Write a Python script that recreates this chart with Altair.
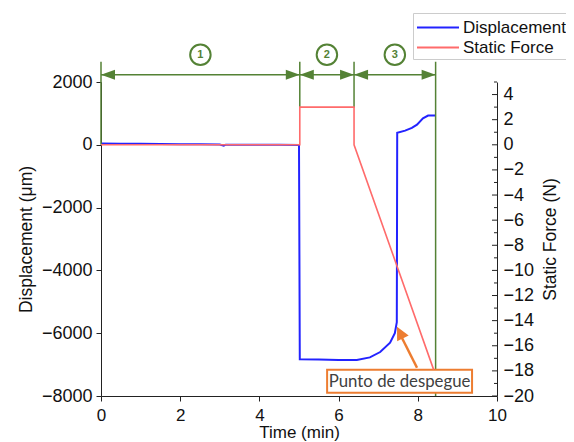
import altair as alt
import pandas as pd

# ---- data ----
disp_t = [0, 0.5, 1.0, 1.5, 2.0, 2.5, 3.0, 3.1, 3.15, 3.5, 4.0, 4.5, 5.0, 5.02,
          5.5, 6.0, 6.46, 6.79, 7.05, 7.3, 7.42, 7.47, 7.48, 7.68, 7.85, 7.98, 8.13, 8.26, 8.45]
disp_v = [40, 35, 30, 25, 20, 15, 10, -30, 5, 5, 0, 0, -5, -6830,
          -6840, -6850, -6850, -6770, -6600, -6300, -6000, -5650, 380, 450, 540, 640, 840, 930, 930]

force_t = [0, 5.02, 5.02, 6.39, 6.39, 8.40]
force_v = [0, 0, 3, 3, 0, -17.9]

phase_bounds = [0, 5.02, 6.39, 8.45]
phase_labels = ["1", "2", "3"]

BLUE = "#2323ff"
RED = "#ff6b6b"
GREEN = "#548235"
ORANGE = "#ED7D31"
FONT = "Liberation Sans"

disp_df = pd.DataFrame({"t": disp_t, "v": disp_v, "i": range(len(disp_t)),
                        "series": "Displacement"})
force_df = pd.DataFrame({"t": force_t, "v": force_v, "i": range(len(force_t)),
                         "series": "Static Force"})

color_scale = alt.Scale(domain=["Displacement", "Static Force"], range=[BLUE, RED])
legend = alt.Legend(orient="none", legendX=312, legendY=-69, title=None,
                    symbolType="M-1,0L3,0", symbolSize=441, symbolStrokeWidth=2,
                    labelFontSize=17, labelFont=FONT, labelColor="#111",
                    strokeColor="#cccccc", fillColor="white", padding=3,
                    rowPadding=0, labelOffset=24)

xscale = alt.Scale(domain=[0, 10], nice=False)
dscale = alt.Scale(domain=[-8000, 2000], nice=False)
fscale = alt.Scale(domain=[-20, 5], nice=False)

x_axis = alt.Axis(title="Time (min)", values=list(range(0, 11)), format="d",
                  labelExpr="datum.value % 2 === 0 ? datum.label : ''",
                  tickSize={"condition": {"test": "datum.value % 2 !== 0", "value": 3}, "value": 5},
                  labelOverlap=False, labelFlush=False, labelPadding=6, titlePadding=1,
                  labelFontSize=17, titleFontSize=17)
y_axis = alt.Axis(title="Displacement (μm)", orient="left",
                  values=list(range(-8000, 2001, 1000)), format="d",
                  labelExpr="datum.value % 2000 === 0 ? datum.label : ''",
                  tickSize={"condition": {"test": "datum.value % 2000 !== 0", "value": 3}, "value": 5},
                  labelOverlap=False, labelFlush=False, labelPadding=4, titlePadding=6)
f_axis = alt.Axis(title="Static Force (N)", orient="right",
                  values=list(range(-20, 5, 2)), format="d", tickSize=0,
                  labelPadding=6, titlePadding=26, titleAngle=270,
                  labelOverlap=False, labelFlush=False)

# ---- displacement group ----
blue = alt.Chart(disp_df).mark_line(strokeWidth=2, clip=False).encode(
    x=alt.X("t:Q", scale=xscale, axis=x_axis),
    y=alt.Y("v:Q", scale=dscale, axis=y_axis),
    order="i:Q",
    color=alt.Color("series:N", scale=color_scale, legend=legend),
)

vlines_df = pd.DataFrame({"t": phase_bounds, "top": [2643] * 4,
                          "bottom": [0, 1180, 1180, -8000]})
vlines = alt.Chart(vlines_df).mark_rule(color=GREEN, strokeWidth=1.5).encode(
    x="t:Q", y="top:Q", y2="bottom:Q")

arrows_df = pd.DataFrame({"t0": phase_bounds[:-1], "t1": phase_bounds[1:],
                          "y": [2229] * 3,
                          "mid": [(a + b) / 2 for a, b in zip(phase_bounds[:-1], phase_bounds[1:])],
                          "cy": [2866] * 3, "label": phase_labels})
shafts = alt.Chart(arrows_df).mark_rule(color=GREEN, strokeWidth=1.5).encode(
    x="t0:Q", x2="t1:Q", y="y:Q")
lheads = alt.Chart(arrows_df).mark_point(shape="M0,0L2,-0.72L2,0.72Z", size=196,
                                         filled=True, color=GREEN, opacity=1).encode(
    x="t0:Q", y="y:Q")
rheads = alt.Chart(arrows_df).mark_point(shape="M0,0L-2,-0.72L-2,0.72Z", size=196,
                                         filled=True, color=GREEN, opacity=1).encode(
    x="t1:Q", y="y:Q")
circles = alt.Chart(arrows_df).mark_point(shape="circle", size=420, filled=True,
                                          fill="white", stroke=GREEN, strokeWidth=2,
                                          opacity=1).encode(x="mid:Q", y="cy:Q")
nums = alt.Chart(arrows_df).mark_text(font=FONT, fontSize=11, fontWeight="bold",
                                      color=GREEN).encode(
    x="mid:Q", y="cy:Q", text="label:N")

box_df = pd.DataFrame({"x0": [5.71], "x1": [9.37], "y0": [-7166], "y1": [-7898],
                       "tx": [7.54], "ty": [-7540], "text": ["Punto de despegue"]})
box = alt.Chart(box_df).mark_rect(fill="white", stroke=ORANGE, strokeWidth=2).encode(
    x="x0:Q", x2="x1:Q", y="y0:Q", y2="y1:Q")
box_text = alt.Chart(box_df).mark_text(font="Lato", fontSize=16.8, color="#404040").encode(
    x="tx:Q", y="ty:Q", text="text:N")

oarrow_df = pd.DataFrame({"tail_t": [7.98], "tail_v": [-7102],
                          "base_t": [7.56], "base_v": [-6050],
                          "tip_t": [7.475], "tip_v": [-5796]})
oshaft = alt.Chart(oarrow_df).mark_rule(color=ORANGE, strokeWidth=2.5).encode(
    x="tail_t:Q", y="tail_v:Q", x2="base_t:Q", y2="base_v:Q")
ohead = alt.Chart(oarrow_df).mark_point(shape="M0,0L-1,2L1,2Z", size=169, angle=333,
                                        filled=True, color=ORANGE, opacity=1).encode(
    x="tip_t:Q", y="tip_v:Q")

disp_group = alt.layer(blue, vlines, shafts, lheads, rheads, circles, nums,
                       box, box_text, oshaft, ohead)

# ---- force group ----
red = alt.Chart(force_df).mark_line(strokeWidth=1.6).encode(
    x=alt.X("t:Q", scale=xscale),
    y=alt.Y("v:Q", scale=fscale, axis=f_axis),
    order="i:Q",
    color=alt.Color("series:N", scale=color_scale, legend=legend),
)
major_df = pd.DataFrame({"v": list(range(-20, 5, 2))})
minor_df = pd.DataFrame({"v": list(range(-19, 6, 2))})
fmajor = alt.Chart(major_df).mark_rule(color="#222", strokeWidth=1).encode(
    x=alt.value(391), x2=alt.value(396), y=alt.Y("v:Q", scale=fscale, axis=f_axis))
fminor = alt.Chart(minor_df).mark_rule(color="#222", strokeWidth=1).encode(
    x=alt.value(393), x2=alt.value(396), y=alt.Y("v:Q", scale=fscale, axis=f_axis))

force_group = alt.layer(red, fmajor, fminor)

chart = alt.layer(disp_group, force_group).resolve_scale(y="independent").properties(
    width=396, height=314,
    autosize=alt.AutoSizeParams(type="none"),
    padding={"left": 93, "top": 74, "right": 69, "bottom": 46},
).configure_view(stroke=None).configure_axis(
    labelFont=FONT, titleFont=FONT, labelFontSize=18, titleFontSize=17.5,
    titleFontWeight="normal", labelColor="#111", titleColor="#111",
    domainColor="#222", tickColor="#222", grid=False,
)

chart.save("out.html", embed_options={"renderer": "svg", "actions": False})
